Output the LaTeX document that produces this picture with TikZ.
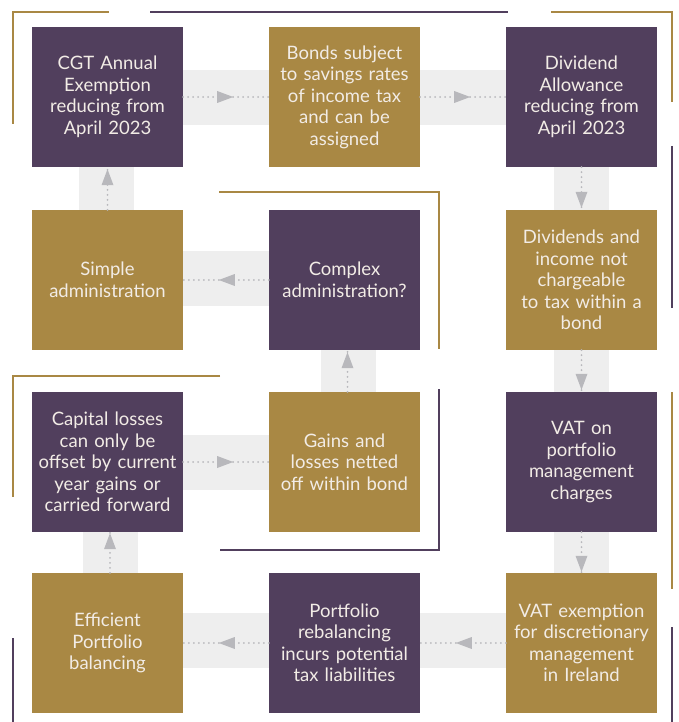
\documentclass[tikz,border=0pt]{standalone}
\usepackage{fontspec}
\setmainfont{Lato}
\usetikzlibrary{decorations.markings}
\definecolor{plum}{HTML}{513F5D}
\definecolor{gold}{HTML}{A98844}
\definecolor{band}{HTML}{EEEEEE}
\definecolor{arr}{HTML}{B8B8BC}
\definecolor{txt}{HTML}{F2ECE6}
\begin{document}
\begin{tikzpicture}[x=1pt,y=-1pt,
  box/.style={minimum width=151pt,minimum height=140pt,inner sep=0pt,align=center,
    text=txt,font=\fontsize{18.5}{21.5}\selectfont,text width=150pt},
  pbox/.style={box,fill=plum},
  gbox/.style={box,fill=gold},
  flow/.style={draw=arr,line width=2pt,dash pattern=on 0pt off 5pt,line cap=round,
    postaction={decorate},
    decoration={markings,mark=at position #1 with {\fill[arr,line width=0pt] (-16pt,-6pt) -- (0pt,0pt) -- (-16pt,6pt) -- cycle;}}},
  bracket/.style={line width=2pt}
]
\useasboundingbox (0,0) rectangle (678,722);
% background bands
\fill[band] (107.5,70) rectangle (581.5,125);
\fill[band] (107.5,251) rectangle (344.5,306);
\fill[band] (107.5,435) rectangle (344.5,490);
\fill[band] (107.5,613) rectangle (581.5,668);
\fill[band] (79,97) rectangle (134,280);
\fill[band] (83,462) rectangle (138,643);
\fill[band] (321,280) rectangle (376,462);
\fill[band] (554,97) rectangle (609,643);
% boxes
\node[pbox] (cgt) at (107.5,97) {CGT Annual\\Exemption\\reducing from\\April 2023};
\node[gbox] (bonds) at (344.5,97) {Bonds subject\\to savings rates\\of income tax\\and can be\\assigned};
\node[pbox] (div) at (581.5,97) {Dividend\\Allowance\\reducing from\\April 2023};
\node[gbox] (simple) at (107.5,280) {Simple\\administration};
\node[pbox] (complex) at (344.5,280) {Complex\\administration?};
\node[gbox] (divinc) at (581.5,280) {Dividends and\\income not\\chargeable\\to tax within a\\bond};
\node[pbox] (cap) at (107.5,462) {Capital losses\\can only be\\offset by current\\year gains or\\carried forward};
\node[gbox] (gains) at (344.5,462) {Gains and\\losses netted\\off within bond};
\node[pbox] (vat) at (581.5,462) {VAT on\\portfolio\\management\\charges};
\node[gbox] (eff) at (107.5,643) {Efficient\\Portfolio\\balancing};
\node[pbox] (rebal) at (344.5,643) {Portfolio\\rebalancing\\incurs potential\\tax liabilities};
\node[gbox] (vatex) at (581.5,643) {VAT exemption\\for discretionary\\management\\in Ireland};
% connectors
\draw[flow=50pt] (cgt.east) -- (bonds.west);
\draw[flow=50pt] (bonds.east) -- (div.west);
\draw[flow=-2pt] (div.south) -- (divinc.north);
\draw[flow=-2pt] (divinc.south) -- (vat.north);
\draw[flow=-1pt] (vat.south) -- (vatex.north);
\draw[flow=50pt] (vatex.west) -- (rebal.east);
\draw[flow=50pt] (rebal.west) -- (eff.east);
\draw[flow=-1pt] ([xshift=2.5pt]eff.north) -- ([xshift=2.5pt]cap.south);
\draw[flow=50pt] (cap.east) -- (gains.west);
\draw[flow=-2pt] ([xshift=3pt]gains.north) -- ([xshift=3pt]complex.south);
\draw[flow=50pt] (complex.west) -- (simple.east);
\draw[flow=-2pt] (simple.north) -- (cgt.south);
% decorative brackets
\draw[bracket,gold] (13,124) -- (13,12) -- (109,12);
\draw[bracket,plum] (150,12) -- (508,12);
\draw[bracket,gold] (551,12) -- (672,12) -- (672,102);
\draw[bracket,plum] (672,146) -- (672,308);
\draw[bracket,gold] (672,392) -- (672,589);
\draw[bracket,plum] (672,627) -- (672,722);
\draw[bracket,gold] (219,192) -- (439,192) -- (439,349);
\draw[bracket,gold] (220,376) -- (13,376) -- (13,497);
\draw[bracket,plum] (439,389) -- (439,550) -- (220,550);
\draw[bracket,plum] (13,638) -- (13,722);
\end{tikzpicture}
\end{document}
